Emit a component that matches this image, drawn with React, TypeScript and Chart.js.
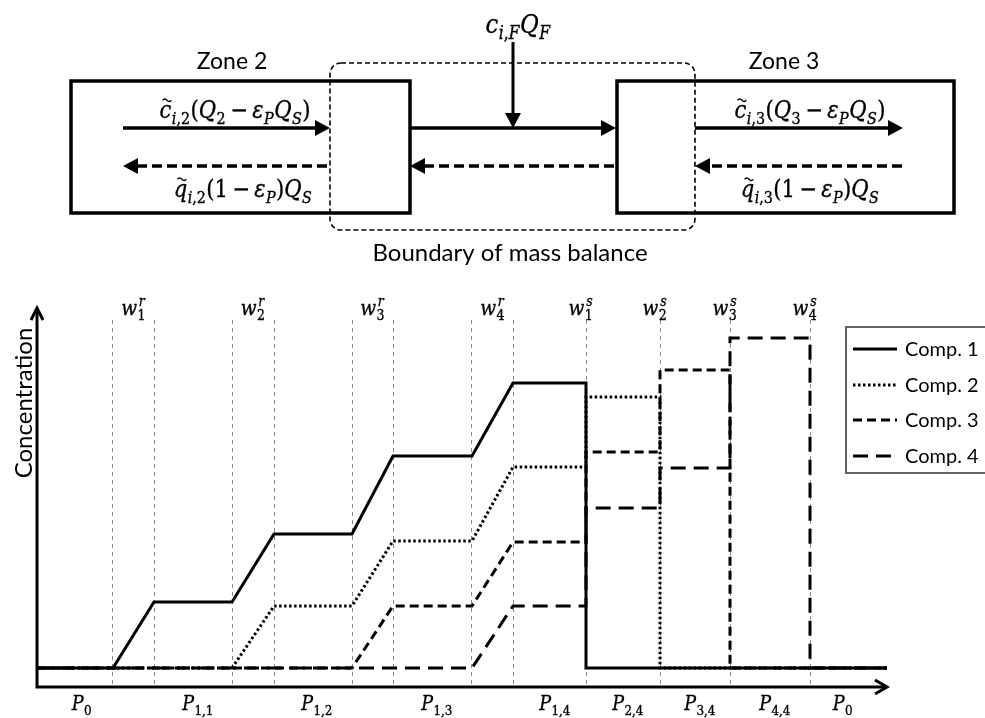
import { useEffect, useRef } from 'react';
import { Chart, registerables } from 'chart.js';

Chart.register(...registerables);

// ---------- data ----------
// window boundaries on the (dimensionless) time axis
const windowEdges = [7.6, 11.7, 19.5, 23.7, 31.5, 35.6, 43.5, 47.6, 54.9, 62.3, 69.3, 77.3];
const xMax = 85;
const yMin = -1.9;
const yMax = 34.8;

const seriesNames = ['Comp. 1', 'Comp. 2', 'Comp. 3', 'Comp. 4'];

const comp1X = [0, 7.6, 11.7, 19.5, 23.7, 31.5, 35.6, 43.5, 47.6, 54.9, 54.9, 85];
const comp1Y = [0, 0, 6.6, 6.6, 13.4, 13.4, 21.2, 21.2, 28.5, 28.5, 0, 0];
const comp2X = [0, 19.5, 23.7, 31.5, 35.6, 43.5, 47.6, 54.9, 54.9, 62.3, 62.3, 85];
const comp2Y = [0, 0, 6.2, 6.2, 12.7, 12.7, 20.1, 20.1, 27.1, 27.1, 0, 0];
const comp3X = [0, 31.5, 35.6, 43.5, 47.6, 54.9, 54.9, 62.3, 62.3, 69.3, 69.3, 85];
const comp3Y = [0, 0, 6.2, 6.2, 12.6, 12.6, 21.6, 21.6, 29.8, 29.8, 0, 0];
const comp4X = [0, 43.5, 47.6, 54.9, 54.9, 62.3, 62.3, 69.3, 69.3, 77.3, 77.3, 85];
const comp4Y = [0, 0, 6.2, 6.2, 16.0, 16.0, 20.0, 20.0, 33.0, 33.0, 0, 0];

const rWindowLabels = ['w_{1}^{r}', 'w_{2}^{r}', 'w_{3}^{r}', 'w_{4}^{r}'];
const sWindowLabels = ['w_{1}^{s}', 'w_{2}^{s}', 'w_{3}^{s}', 'w_{4}^{s}'];
const periodLabels = ['P_{0}', 'P_{1,1}', 'P_{1,2}', 'P_{1,3}', 'P_{1,4}', 'P_{2,4}', 'P_{3,4}', 'P_{4,4}', 'P_{0}'];
const periodTicks = [4.5, 16.1, 28.0, 40.0, 51.8, 59.1, 66.3, 73.8, 80.6];

const yTitle = 'Concentration';

// ---------- math text helpers ----------
type Atom = { base: string; tilde: boolean; sub?: string; sup?: string };
const SERIF = '"DejaVu Serif"';
const SANS = 'Lato, "Open Sans", sans-serif';
const CONDENSE = 0.88;

function parseMath(s: string): Atom[] {
  const atoms: Atom[] = [];
  let i = 0;
  let tilde = false;
  const readGroup = () => {
    if (s[i] === '{') {
      const j = s.indexOf('}', i);
      const g = s.slice(i + 1, j);
      i = j + 1;
      return g;
    }
    return s[i++];
  };
  while (i < s.length) {
    const ch = s[i];
    if (ch === '~') { tilde = true; i++; continue; }
    if (ch === '_') { i++; atoms[atoms.length - 1].sub = readGroup(); continue; }
    if (ch === '^') { i++; atoms[atoms.length - 1].sup = readGroup(); continue; }
    atoms.push({ base: ch, tilde });
    tilde = false;
    i++;
  }
  return atoms;
}
const isLetter = (c: string) => /[A-Za-z\u03B1-\u03C9]/.test(c);
const fontFor = (c: string, size: number) => `${isLetter(c) ? 'italic ' : ''}${size}px ${SERIF}`;
function strWidth(ctx: CanvasRenderingContext2D, str: string, size: number) {
  let w = 0;
  for (const c of str) { ctx.font = fontFor(c, size); w += ctx.measureText(c).width; }
  return w;
}
function drawStr(ctx: CanvasRenderingContext2D, str: string, x: number, y: number, size: number) {
  for (const c of str) {
    ctx.font = fontFor(c, size);
    ctx.fillText(c, x, y);
    ctx.strokeText(c, x, y);
    x += ctx.measureText(c).width;
  }
  return x;
}
function atomWidth(ctx: CanvasRenderingContext2D, a: Atom, size: number) {
  const ss = size * 0.68;
  const sw = a.sub ? strWidth(ctx, a.sub, ss) : 0;
  const pw = a.sup ? strWidth(ctx, a.sup, ss) + size * 0.1 : 0;
  return strWidth(ctx, a.base, size) + Math.max(sw, pw) + (a.sub || a.sup ? 1 : 0);
}
function drawTilde(ctx: CanvasRenderingContext2D, cx: number, cy: number, w: number) {
  ctx.save();
  ctx.lineWidth = 1.4;
  ctx.strokeStyle = '#000';
  ctx.setLineDash([]);
  ctx.beginPath();
  for (let k = 0; k <= 12; k++) {
    const t = k / 12;
    const px = cx - w / 2 + t * w;
    const py = cy - Math.sin(t * Math.PI * 2) * w * 0.13;
    if (k === 0) ctx.moveTo(px, py); else ctx.lineTo(px, py);
  }
  ctx.stroke();
  ctx.restore();
}
function drawMath(ctx: CanvasRenderingContext2D, s: string, cx: number, baseline: number, size: number) {
  const atoms = parseMath(s);
  const total = atoms.reduce((w, a) => w + atomWidth(ctx, a, size), 0);
  ctx.save();
  ctx.translate(cx - (total * CONDENSE) / 2, 0);
  ctx.scale(CONDENSE, 1);
  let x = 0;
  ctx.textAlign = 'left';
  ctx.textBaseline = 'alphabetic';
  ctx.fillStyle = '#000';
  ctx.strokeStyle = '#000';
  ctx.lineWidth = 0.35;
  ctx.setLineDash([]);
  for (const a of atoms) {
    const bw = strWidth(ctx, a.base, size);
    drawStr(ctx, a.base, x, baseline, size);
    if (a.tilde) drawTilde(ctx, x + bw / 2 + size * 0.07, baseline - size * 0.74, size * 0.42);
    x += bw;
    const ss = size * 0.68;
    let w2 = 0;
    if (a.sub) {
      drawStr(ctx, a.sub, x + 0.5, baseline + size * 0.24, ss);
      w2 = Math.max(w2, strWidth(ctx, a.sub, ss));
    }
    if (a.sup) {
      drawStr(ctx, a.sup, x + size * 0.1, baseline - size * 0.45, ss);
      w2 = Math.max(w2, strWidth(ctx, a.sup, ss) + size * 0.1);
    }
    x += w2 + (a.sub || a.sup ? 1 : 0);
  }
  ctx.restore();
}

function arrow(ctx: CanvasRenderingContext2D, x1: number, y1: number, x2: number, y2: number, dashed: boolean, lw = 3.5) {
  const ang = Math.atan2(y2 - y1, x2 - x1);
  const hl = 15;
  const hw = 8;
  const bx = x2 - hl * Math.cos(ang);
  const by = y2 - hl * Math.sin(ang);
  ctx.save();
  ctx.strokeStyle = '#000';
  ctx.fillStyle = '#000';
  ctx.lineWidth = lw;
  ctx.setLineDash(dashed ? [10, 5] : []);
  ctx.beginPath();
  ctx.moveTo(x1, y1);
  ctx.lineTo(bx, by);
  ctx.stroke();
  ctx.setLineDash([]);
  ctx.beginPath();
  ctx.moveTo(x2, y2);
  ctx.lineTo(bx + hw * Math.sin(ang), by - hw * Math.cos(ang));
  ctx.lineTo(bx - hw * Math.sin(ang), by + hw * Math.cos(ang));
  ctx.closePath();
  ctx.fill();
  ctx.restore();
}

function roundRect(ctx: CanvasRenderingContext2D, x: number, y: number, w: number, h: number, r: number) {
  ctx.beginPath();
  ctx.moveTo(x + r, y);
  ctx.lineTo(x + w - r, y);
  ctx.arcTo(x + w, y, x + w, y + r, r);
  ctx.lineTo(x + w, y + h - r);
  ctx.arcTo(x + w, y + h, x + w - r, y + h, r);
  ctx.lineTo(x + r, y + h);
  ctx.arcTo(x, y + h, x, y + h - r, r);
  ctx.lineTo(x, y + r);
  ctx.arcTo(x, y, x + r, y, r);
  ctx.closePath();
}

const diagramPlugin = {
  id: 'diagram',
  afterDraw(chart: any) {
    const ctx: CanvasRenderingContext2D = chart.ctx;
    const { left, right, bottom, top } = chart.chartArea;
    const xs = chart.scales.x;
    ctx.save();

    // ---- top schematic ----
    ctx.strokeStyle = '#000';
    ctx.lineWidth = 3.5;
    ctx.setLineDash([]);
    ctx.strokeRect(71, 81, 339, 132);
    ctx.strokeRect(617, 81, 337, 132);

    ctx.lineWidth = 1.6;
    ctx.setLineDash([5, 3]);
    roundRect(ctx, 330, 63, 365, 167, 11);
    ctx.stroke();
    ctx.setLineDash([]);

    arrow(ctx, 123, 128, 330, 128, false);
    arrow(ctx, 327, 166, 123, 166, true);
    arrow(ctx, 410, 128, 616, 128, false);
    arrow(ctx, 614, 166, 410, 166, true);
    arrow(ctx, 695, 128, 903, 128, false);
    arrow(ctx, 902, 166, 695, 166, true);
    arrow(ctx, 513, 42, 513, 128, false, 3);

    ctx.fillStyle = '#000';
    ctx.font = `23px ${SANS}`;
    ctx.textAlign = 'center';
    ctx.textBaseline = 'alphabetic';
    ctx.fillText('Zone 2', 232, 69);
    ctx.fillText('Zone 3', 784, 69);
    ctx.font = `24px ${SANS}`;
    ctx.fillText('Boundary of mass balance', 510, 261);

    drawMath(ctx, 'c_{i,F}Q_{F}', 518, 33, 26);
    drawMath(ctx, '~c_{i,2}(Q_{2}\u2009\u2212\u2009\u03B5_{P}Q_{S})', 235, 118, 24);
    drawMath(ctx, '~q_{i,2}(1\u2009\u2212\u2009\u03B5_{P})Q_{S}', 243, 197, 24);
    drawMath(ctx, '~c_{i,3}(Q_{3}\u2009\u2212\u2009\u03B5_{P}Q_{S})', 810, 118, 24);
    drawMath(ctx, '~q_{i,3}(1\u2009\u2212\u2009\u03B5_{P})Q_{S}', 810, 197, 24);

    // ---- axes with arrows ----
    ctx.strokeStyle = '#000';
    ctx.lineWidth = 3;
    ctx.setLineDash([]);
    ctx.beginPath();
    ctx.moveTo(left, top - 12);
    ctx.lineTo(left, bottom);
    ctx.lineTo(right, bottom);
    ctx.stroke();
    ctx.beginPath();
    ctx.moveTo(left - 6, top);
    ctx.lineTo(left, top - 12);
    ctx.lineTo(left + 6, top);
    ctx.moveTo(right - 12, bottom - 7);
    ctx.lineTo(right, bottom);
    ctx.lineTo(right - 12, bottom + 7);
    ctx.stroke();

    // y title
    ctx.save();
    ctx.translate(32, 403);
    ctx.rotate(-Math.PI / 2);
    ctx.font = `24px ${SANS}`;
    ctx.textAlign = 'center';
    ctx.textBaseline = 'alphabetic';
    ctx.fillStyle = '#000';
    ctx.fillText(yTitle, 0, 0);
    ctx.restore();

    // window labels
    rWindowLabels.forEach((lab, i) => {
      const v = (windowEdges[2 * i] + windowEdges[2 * i + 1]) / 2;
      drawMath(ctx, lab, xs.getPixelForValue(v), 315, 21);
    });
    sWindowLabels.forEach((lab, i) => {
      drawMath(ctx, lab, xs.getPixelForValue(windowEdges[8 + i]) - 5, 315, 21);
    });
    // period labels
    periodLabels.forEach((lab, i) => {
      drawMath(ctx, lab, xs.getPixelForValue(periodTicks[i]), 710, 20);
    });

    // legend
    const lx = 846;
    const ly = 327;
    ctx.fillStyle = '#fff';
    ctx.fillRect(lx, ly, 140, 146);
    ctx.strokeStyle = '#333';
    ctx.lineWidth = 1.5;
    ctx.setLineDash([]);
    ctx.strokeRect(lx, ly, 140, 146);
    const rows = [349, 385, 420, 456];
    chart.data.datasets.forEach((ds: any, i: number) => {
      ctx.strokeStyle = '#000';
      ctx.lineWidth = ds.borderWidth;
      ctx.setLineDash(ds.borderDash || []);
      ctx.beginPath();
      ctx.moveTo(853, rows[i]);
      ctx.lineTo(897, rows[i]);
      ctx.stroke();
      ctx.setLineDash([]);
      ctx.fillStyle = '#000';
      ctx.font = `20px ${SANS}`;
      ctx.textAlign = 'left';
      ctx.textBaseline = 'middle';
      ctx.fillText(ds.label, 905, rows[i] + 1);
    });

    ctx.restore();
  },
};

const toPoints = (xs: number[], ys: number[]) => xs.map((x, i) => ({ x, y: ys[i] }));

export default function App() {
  const ref = useRef<HTMLCanvasElement | null>(null);
  useEffect(() => {
    document.body.style.margin = '0';
    const canvas = ref.current;
    if (!canvas) return;
    const dashes = [[], [2.5, 2.5], [9, 5], [15, 8]];
    const series = [
      toPoints(comp1X, comp1Y),
      toPoints(comp2X, comp2Y),
      toPoints(comp3X, comp3Y),
      toPoints(comp4X, comp4Y),
    ];
    const chart = new Chart(canvas, {
      type: 'line',
      data: {
        datasets: series.map((d, i) => ({
          label: seriesNames[i],
          data: d,
          borderColor: '#000',
          borderWidth: 3,
          borderDash: dashes[i],
          pointRadius: 0,
          tension: 0,
          fill: false,
          borderCapStyle: 'butt',
          borderJoinStyle: 'miter',
        })),
      } as any,
      options: {
        responsive: false,
        animation: false,
        layout: { padding: { left: 37, top: 320, right: 98, bottom: 31 } },
        plugins: { legend: { display: false }, tooltip: { enabled: false }, title: { display: false } },
        events: [],
        scales: {
          x: {
            type: 'linear',
            min: 0,
            max: xMax,
            afterBuildTicks: (scale: any) => {
              scale.ticks = windowEdges.map((v) => ({ value: v }));
            },
            ticks: { display: false },
            grid: { color: '#888', lineWidth: 1, drawTicks: false },
            border: { display: false, dash: [4, 4] },
          },
          y: {
            type: 'linear',
            display: false,
            min: yMin,
            max: yMax,
          },
        },
      } as any,
      plugins: [diagramPlugin],
    });
    return () => chart.destroy();
  }, []);
  return <canvas ref={ref} width={985} height={718} style={{ display: 'block' }} />;
}
